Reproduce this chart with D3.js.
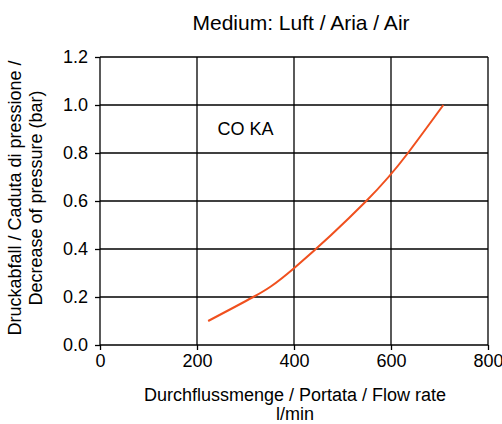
<!DOCTYPE html>
<html>
<head>
<meta charset="utf-8">
<script src="https://cdn.jsdelivr.net/npm/d3@7"></script>
<style>
  body { margin: 0; background: #fff; }
  svg { font-family: "Liberation Sans", Arial, sans-serif; }
</style>
</head>
<body>
<svg id="chart" width="502" height="424"></svg>
<script>
// flow rate (l/min) vs pressure drop (bar)
const flow = [223, 316, 400, 549, 635, 708];
const pressure = [0.10, 0.20, 0.32, 0.60, 0.80, 1.0];
const xTicks = [0, 200, 400, 600, 800];
const yTicks = [0, 0.2, 0.4, 0.6, 0.8, 1.0, 1.2];

const margin = {top: 57, right: 14, bottom: 79, left: 100};
const width = 502, height = 424;
const w = width - margin.left - margin.right;
const h = height - margin.top - margin.bottom;

const svg = d3.select("#chart");
const g = svg.append("g").attr("transform", `translate(${margin.left},${margin.top})`);

const x = d3.scaleLinear().domain([0, 800]).range([0, w]);
const y = d3.scaleLinear().domain([0, 1.2]).range([h, 0]);

// grid
g.append("g").selectAll("line").data(xTicks).join("line")
  .attr("x1", d => x(d)).attr("x2", d => x(d))
  .attr("y1", 0).attr("y2", h)
  .attr("stroke", "#000").attr("stroke-width", 1.3);
g.append("g").selectAll("line").data(yTicks).join("line")
  .attr("x1", 0).attr("x2", w)
  .attr("y1", d => y(d)).attr("y2", d => y(d))
  .attr("stroke", "#000").attr("stroke-width", 1.3);

// axes
g.append("g")
  .attr("transform", `translate(0,${h})`)
  .call(d3.axisBottom(x).tickValues(xTicks).tickSize(5).tickPadding(4).tickFormat(d3.format("d")))
  .call(a => a.select(".domain").remove())
  .call(a => a.selectAll("line").attr("stroke-width", 1.3))
  .call(a => a.selectAll("text").attr("font-size", 18).attr("fill", "#000").attr("font-family", null));

g.append("g")
  .call(d3.axisLeft(y).tickValues(yTicks).tickSize(5).tickPadding(7).tickFormat(d3.format(".1f")))
  .call(a => a.select(".domain").remove())
  .call(a => a.selectAll("line").attr("stroke-width", 1.3))
  .call(a => a.selectAll("text").attr("font-size", 18).attr("fill", "#000").attr("font-family", null));

// curve
const line = d3.line()
  .x((d, i) => x(flow[i]))
  .y(d => y(d))
  .curve(d3.curveNatural);

g.append("path")
  .datum(pressure)
  .attr("fill", "none")
  .attr("stroke", "#f0501e")
  .attr("stroke-width", 2)
  .attr("d", line);

// label inside plot
g.append("text")
  .attr("x", x(300)).attr("y", y(0.9))
  .attr("text-anchor", "middle").attr("dy", "0.35em")
  .attr("font-size", 18)
  .text("CO KA");

// title
svg.append("text")
  .attr("x", 301).attr("y", 30)
  .attr("text-anchor", "middle")
  .attr("font-size", 21)
  .text("Medium: Luft / Aria / Air");

// x label
svg.append("text")
  .attr("x", 295).attr("y", 401)
  .attr("text-anchor", "middle").attr("font-size", 18)
  .text("Durchflussmenge / Portata / Flow rate");
svg.append("text")
  .attr("x", 295).attr("y", 420)
  .attr("text-anchor", "middle").attr("font-size", 18)
  .text("l/min");

// y label
const yl = svg.append("text")
  .attr("transform", `translate(0,${margin.top + h / 2 - 3}) rotate(-90)`)
  .attr("text-anchor", "middle").attr("font-size", 18);
yl.append("tspan").attr("x", 0).attr("y", 21).text("Druckabfall / Caduta di pressione /");
yl.append("tspan").attr("x", 0).attr("y", 42).text("Decrease of pressure (bar)");
</script>
</body>
</html>
